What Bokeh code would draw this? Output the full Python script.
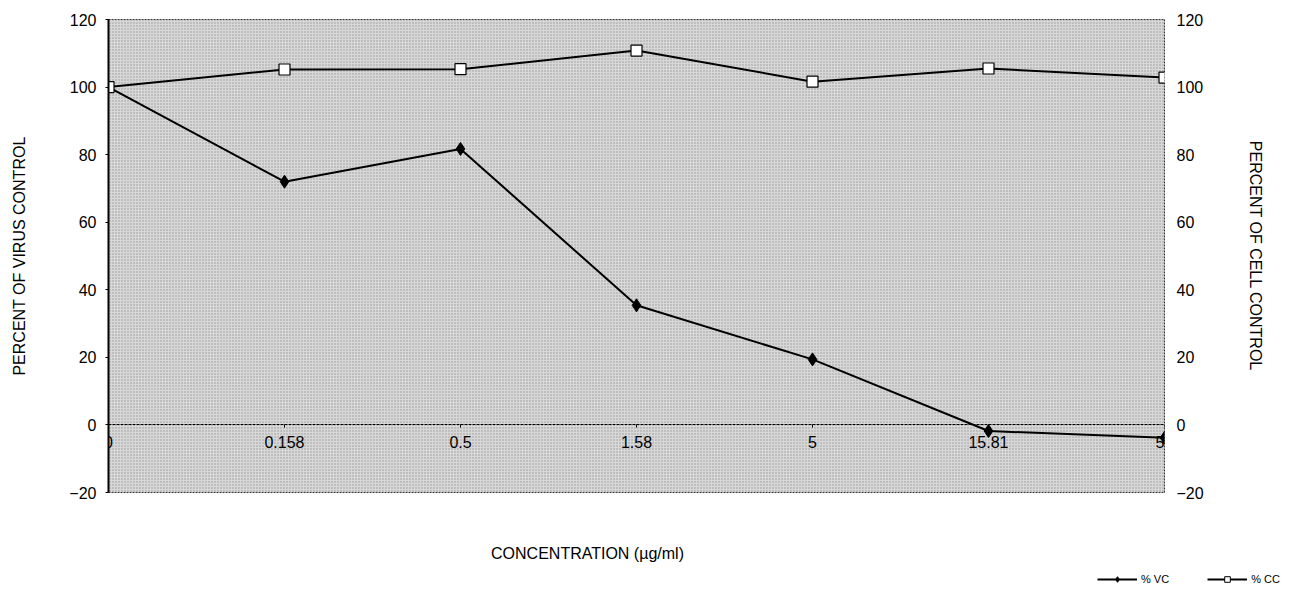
from bokeh.plotting import figure
from bokeh.models import (Range1d, LinearAxis, ColumnDataSource,
                          Label, Legend, LegendItem, BoxAnnotation, FixedTicker)
from bokeh.embed import file_html
from bokeh.resources import INLINE

categories = ["0", "0.158", "0.5", "1.58", "5", "15.81", "50"]
pct_vc = [100, 72.0, 81.7, 35.4, 19.4, -1.8, -3.8]
pct_cc = [100, 105.2, 105.3, 110.8, 101.6, 105.5, 102.8]
y_ticks = [-20, 0, 20, 40, 60, 80, 100, 120]
x_title = "CONCENTRATION (\u00b5g/ml)"
series_names = ["% VC", "% CC"]

xs = list(range(len(categories)))
src = ColumnDataSource(dict(x=xs, vc=pct_vc, cc=pct_cc))

FONT = "Liberation Sans"

p = figure(width=1286, height=537, output_backend="svg", toolbar_location=None,
           x_range=Range1d(0, len(categories) - 1), y_range=Range1d(-20, 120),
           min_border_left=108, min_border_right=122, min_border_top=19, min_border_bottom=45)
p.xgrid.visible = False
p.ygrid.visible = False
p.background_fill_color = "white"
p.border_fill_color = "white"
p.outline_line_color = "black"
p.outline_line_width = 1
p.outline_line_dash = "2 1"

bg = BoxAnnotation(fill_color="#d8d8d8", fill_alpha=1.0, hatch_pattern="dot", hatch_scale=3,
                   hatch_color="black", hatch_alpha=0.3, line_alpha=0, level="underlay")
p.add_layout(bg)

# category axis crossing at y = 0
xa = p.xaxis[0]
xa.fixed_location = 0
xa.ticker = FixedTicker(ticks=xs)
xa.major_label_overrides = {i: c for i, c in zip(xs, categories)}
xa.major_label_text_font = FONT
xa.major_label_text_font_size = "16px"
xa.major_label_text_color = "black"
xa.major_label_standoff = 8
xa.major_tick_out = 3
xa.major_tick_in = 0
xa.major_tick_line_color = "black"
xa.minor_tick_out = 0
xa.minor_tick_in = 0
xa.axis_line_color = "black"
xa.axis_line_width = 1
xa.axis_line_dash = "3 1"

ya = p.yaxis[0]
ya.ticker = FixedTicker(ticks=y_ticks)
ya.axis_label = "PERCENT OF VIRUS CONTROL"
ya.axis_label_text_font = FONT
ya.axis_label_text_font_style = "normal"
ya.axis_label_text_font_size = "16px"
ya.axis_label_text_color = "black"
ya.axis_label_standoff = 38
ya.major_label_text_font = FONT
ya.major_label_text_font_size = "16px"
ya.major_label_text_color = "black"
ya.major_label_standoff = 9
ya.major_tick_out = 3
ya.major_tick_in = 0
ya.major_tick_line_color = "black"
ya.minor_tick_out = 0
ya.minor_tick_in = 0
ya.axis_line_color = "black"
ya.axis_line_width = 2

p.extra_y_ranges = {"cc": Range1d(-20, 120)}
ra = LinearAxis(y_range_name="cc", ticker=FixedTicker(ticks=y_ticks))
ra.axis_label = "PERCENT OF CELL CONTROL"
ra.axis_label_text_font = FONT
ra.axis_label_text_font_style = "normal"
ra.axis_label_text_font_size = "16px"
ra.axis_label_text_color = "black"
ra.axis_label_standoff = 40
ra.major_label_text_font = FONT
ra.major_label_text_font_size = "16px"
ra.major_label_text_color = "black"
ra.major_label_standoff = 12
ra.major_tick_out = 0
ra.major_tick_in = 0
ra.minor_tick_out = 0
ra.minor_tick_in = 0
ra.axis_line_color = None
p.add_layout(ra, "right")

p.line("x", "vc", source=src, line_color="black", line_width=2)
p.scatter("x", "vc", source=src, marker="diamond", size=13, fill_color="black", line_color="black")
p.line("x", "cc", source=src, line_color="black", line_width=2, y_range_name="cc")
p.scatter("x", "cc", source=src, marker="square", size=11, fill_color="white",
          line_color="black", line_width=1.2, y_range_name="cc")

# lower strip: axis title and legend (separate root, so its frame spans the full width)
q = figure(width=1286, height=50, output_backend="svg", toolbar_location=None,
           x_range=Range1d(0, 1286), y_range=Range1d(1000, 1050),
           min_border_left=0, min_border_right=0, min_border_top=0, min_border_bottom=0)
q.xaxis.visible = False
q.yaxis.visible = False
q.xgrid.visible = False
q.ygrid.visible = False
q.outline_line_color = None
q.background_fill_color = "white"
q.border_fill_color = "white"

l1 = q.line("x", "vc", source=src, line_color="black", line_width=2)
m1 = q.scatter("x", "vc", source=src, marker="diamond", size=9, fill_color="black", line_color="black")
l2 = q.line("x", "cc", source=src, line_color="black", line_width=2)
m2 = q.scatter("x", "cc", source=src, marker="square", size=9, fill_color="white",
               line_color="black", line_width=1)

q.add_layout(Label(x=587, y=1034, text=x_title, text_font=FONT, text_font_size="16px",
                   text_align="center", text_baseline="middle", text_color="black"))

legend = Legend(items=[LegendItem(label=series_names[0], renderers=[l1, m1]),
                       LegendItem(label=series_names[1], renderers=[l2, m2])],
                orientation="horizontal", location=(1097, 1), border_line_color=None,
                background_fill_alpha=0, label_text_font=FONT, label_text_font_size="11px",
                label_text_color="black",
                glyph_width=40, glyph_height=14, spacing=38, padding=2, label_standoff=4,
                margin=0)
q.add_layout(legend)

open("out.html", "w").write(file_html([p, q], INLINE))
